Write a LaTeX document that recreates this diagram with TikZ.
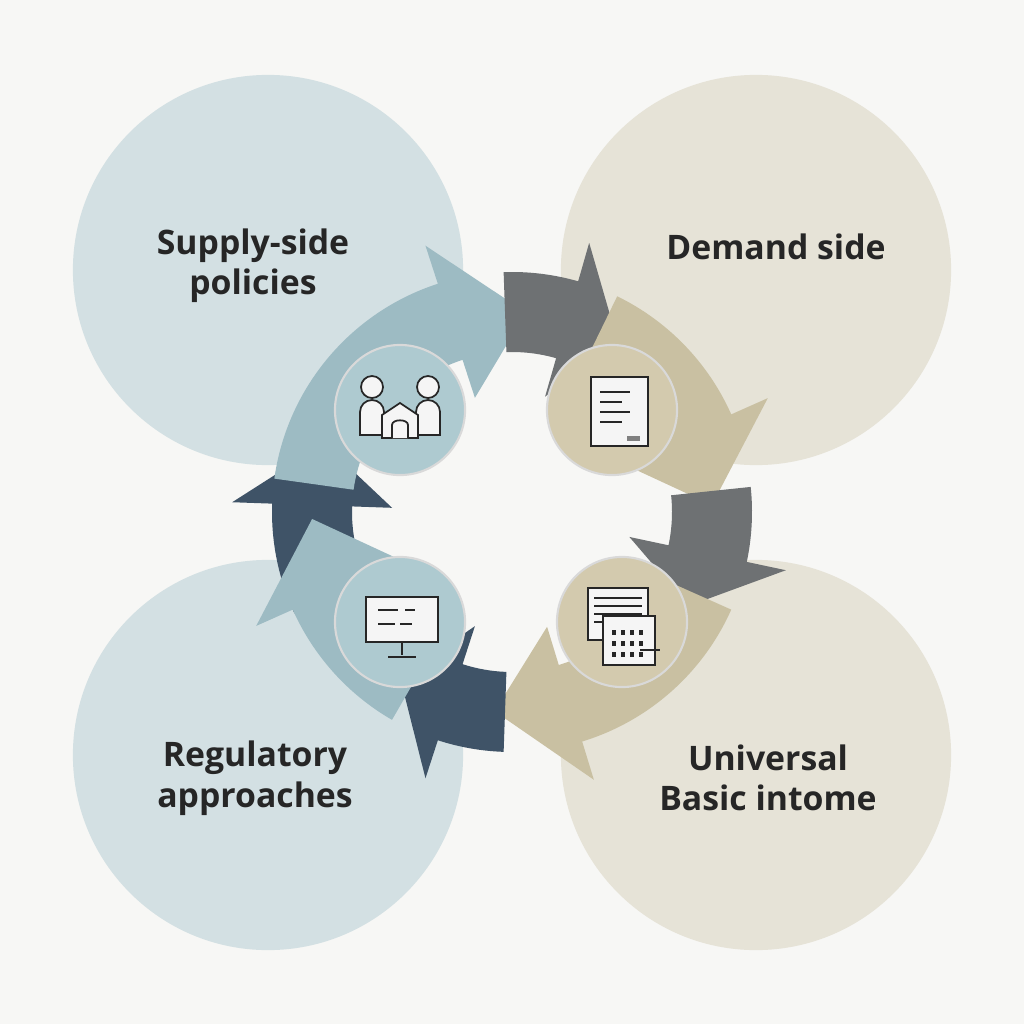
\documentclass[tikz,border=0pt]{standalone}
\usepackage{fontspec}
\setmainfont{Open Sans}
\begin{document}
\begin{tikzpicture}[x=0.01cm,y=-0.01cm,
  big/.style={circle,minimum size=3.9cm,inner sep=0pt},
  small/.style={circle,minimum size=1.3cm,inner sep=0pt,draw=white!70!gray,line width=0.6pt},
  lbl/.style={font=\fontsize{9.6}{11.5}\selectfont\bfseries,align=center,text=black!85},
  ic/.style={draw=black!85,line width=0.5pt,fill=white!92!gray}]
\definecolor{bg}{HTML}{F7F7F5}
\definecolor{lb}{HTML}{D3E0E3}
\definecolor{lt}{HTML}{E6E3D7}
\definecolor{ab}{HTML}{9DBBC3}
\definecolor{an}{HTML}{3F5367}
\definecolor{ag}{HTML}{6E7173}
\definecolor{ae}{HTML}{C9C0A2}
\definecolor{sb}{HTML}{AECAD0}
\definecolor{se}{HTML}{D3CAAE}
\fill[bg] (0,0) rectangle (1024,1024);
\useasboundingbox (0,0) rectangle (1024,1024);
\node[big,fill=lb] (c1) at (268,270) {};
\node[big,fill=lt] (c2) at (756,270) {};
\node[big,fill=lb] (c3) at (268,755) {};
\node[big,fill=lt] (c4) at (756,755) {};
\newcommand{\arcarr}[4]{%
 \pgfmathsetmacro{\bb}{#3+#4}%
 \fill[#1,shift={(512,512)},x=0.01cm,y=0.01cm]
  (#2:240) arc[start angle=#2,end angle=\bb,radius=240] -- (\bb:280) -- (#3:200) -- (\bb:120) -- (\bb:160)
  arc[start angle=\bb,end angle=#2,radius=160] -- cycle;}
\arcarr{an}{205}{160}{18}
\arcarr{ab}{172}{86}{22}
\arcarr{ag}{92}{58}{16}
\arcarr{ae}{64}{2}{22}
\arcarr{ag}{6}{-28}{16}
\arcarr{ae}{-24}{-95}{22}
\arcarr{an}{-92}{-124}{16}
\arcarr{ab}{-120}{-178}{22}
\node[small,fill=sb] (s1) at (400,410) {};
\node[small,fill=se] (s2) at (612,410) {};
\node[small,fill=sb] (s3) at (400,622) {};
\node[small,fill=se] (s4) at (622,622) {};
\draw[ic] (360,435) -- (360,412) to[out=90,in=180] (372,400) to[out=0,in=90] (384,412) -- (384,435) -- cycle;
\draw[ic] (416,435) -- (416,412) to[out=90,in=180] (428,400) to[out=0,in=90] (440,412) -- (440,435) -- cycle;
\draw[ic] (372,387) circle (11); \draw[ic] (428,387) circle (11);
\draw[ic] (382,438) -- (382,415) -- (400,403) -- (418,415) -- (418,438) -- cycle;
\draw[ic] (392,438) -- (392,425) to[out=90,in=90] (408,425) -- (408,438);
\draw[ic] (591,377) rectangle (648,446);
\foreach \yy/\ll in {392/30,402/22,412/30,422/22} \draw[black!85,line width=0.6pt] (600,\yy) -- ++(\ll,0);
\fill[black!50] (627,436) rectangle (640,441);
\draw[ic] (366,597) rectangle (438,642);
\draw[black!85,line width=0.4pt] (378,610) -- (398,610) (405,610) -- (415,610) (378,624) -- (395,624) (400,624) -- (412,624);
\draw[black!85,line width=0.6pt] (402,642) -- (402,655) (388,657) -- (416,657);
\draw[ic] (588,588) rectangle (648,640);
\foreach \yy in {598,606,614,622} \draw[black!85,line width=0.4pt] (594,\yy) -- (642,\yy);
\draw[ic] (603,616) rectangle (655,665);
\foreach \xx in {612,621,630,639} \foreach \yy in {630,641,652} \fill[black!85] (\xx,\yy) rectangle ++(4,5);
\draw[black!85,line width=0.6pt] (640,650) -- (660,650);
\node[lbl] (t1) at (253,266) {Supply-side\\policies};
\node[lbl] (t2) at (776,247) {Demand side};
\node[lbl] (t3) at (255,778) {Regulatory\\approaches};
\node[lbl] (t4) at (768,778) {Universal\\Basic intome};
\end{tikzpicture}
\end{document}
